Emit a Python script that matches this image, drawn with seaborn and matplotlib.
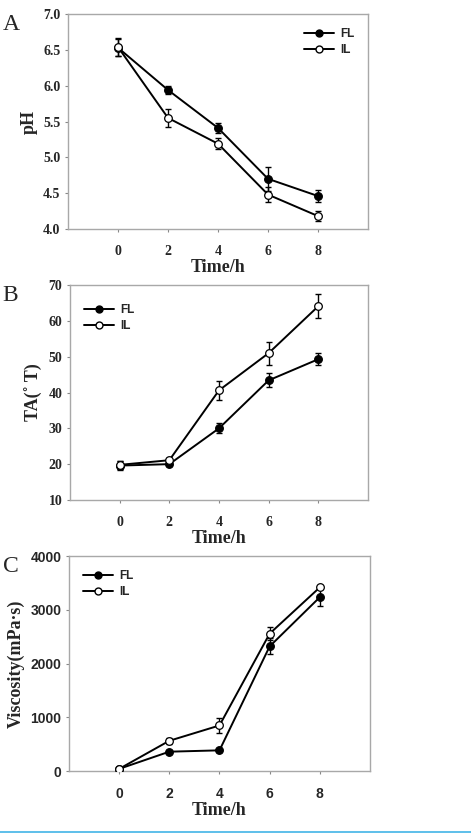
import matplotlib
matplotlib.use("Agg")
import matplotlib.pyplot as plt
import numpy as np
import pandas as pd
import seaborn as sns
from matplotlib.lines import Line2D

# data
time_h = [0, 2, 4, 6, 8]

ph_fl = [6.53, 5.94, 5.41, 4.70, 4.46]
ph_fl_err = [0.12, 0.05, 0.07, 0.17, 0.09]
ph_il = [6.54, 5.55, 5.19, 4.48, 4.18]
ph_il_err = [0.12, 0.13, 0.08, 0.10, 0.07]

ta_fl = [19.6, 20.0, 30.0, 43.4, 49.3]
ta_fl_err = [1.2, 0.4, 1.4, 2.0, 1.6]
ta_il = [19.8, 21.1, 40.6, 51.0, 64.1]
ta_il_err = [1.2, 0.5, 2.6, 3.2, 3.4]

visc_fl = [40, 360, 385, 2320, 3235]
visc_fl_err = [20, 25, 25, 150, 170]
visc_il = [40, 563, 848, 2557, 3418]
visc_il_err = [20, 60, 140, 120, 30]

series_names = ["FL", "IL"]
face_colors = ["black", "white"]

sns.set_style("ticks")
plt.rcParams["font.family"] = ["Liberation Serif", "DejaVu Serif"]

fig = plt.figure(figsize=(4.71, 8.33), dpi=100, facecolor="white")

panels = [
    dict(pos=[0.1444, 0.7251, 0.637, 0.258], fl=ph_fl, fle=ph_fl_err, il=ph_il, ile=ph_il_err,
         ylim=(4.0, 7.0), yticks=[4.0, 4.5, 5.0, 5.5, 6.0, 6.5, 7.0], yfmt="{:.1f}",
         ylabel="pH", letter="A", loc="upper right", bbox=(0.99, 0.985), sans=False),
    dict(pos=[0.1486, 0.3998, 0.6327, 0.258], fl=ta_fl, fle=ta_fl_err, il=ta_il, ile=ta_il_err,
         ylim=(10, 70), yticks=[10, 20, 30, 40, 50, 60, 70], yfmt="{:d}",
         ylabel="TA(˚ T)", letter="B", loc="upper left", bbox=(0.01, 0.96), sans=False),
    dict(pos=[0.1465, 0.0744, 0.639, 0.258], fl=visc_fl, fle=visc_fl_err, il=visc_il, ile=visc_il_err,
         ylim=(0, 4000), yticks=[0, 1000, 2000, 3000, 4000], yfmt="{:d}",
         ylabel="Viscosity(mPa·s)", letter="C", loc="upper left", bbox=(0.01, 0.985), sans=True),
]

for p in panels:
    ax = fig.add_axes(p["pos"])
    df = pd.DataFrame({"time": time_h * 2,
                       "value": p["fl"] + p["il"],
                       "err": p["fle"] + p["ile"],
                       "group": ["FL"] * 5 + ["IL"] * 5})

    for name, fc in zip(series_names, face_colors):
        sub = df[df["group"] == name]
        ax.errorbar(sub["time"], sub["value"], yerr=sub["err"], fmt="none",
                    ecolor="black", elinewidth=1.0, capsize=2.5, capthick=1.0, zorder=2)
        sns.lineplot(data=sub, x="time", y="value", ax=ax, color="black", linewidth=1.4,
                     marker="o", markersize=5.5, markerfacecolor=fc, markeredgecolor="black",
                     markeredgewidth=0.9, errorbar=None, legend=False, zorder=3)

    ax.set_xlim(-2, 10)
    ax.set_ylim(*p["ylim"])
    ax.set_xticks(time_h)
    ax.set_yticks(p["yticks"])
    ax.set_yticklabels([p["yfmt"].format(v) for v in p["yticks"]])

    fam = "Liberation Sans" if p["sans"] else "Liberation Serif"
    for lab in ax.get_xticklabels() + ax.get_yticklabels():
        lab.set_fontfamily(fam)
        lab.set_fontweight("bold")
        lab.set_fontsize(10)

    ax.set_xlabel("Time/h", fontsize=13, fontweight="bold", labelpad=1)
    ax.set_ylabel(p["ylabel"], fontsize=13, fontweight="bold", labelpad=4)

    for s in ax.spines.values():
        s.set_color("#a8a8a8")
        s.set_linewidth(1.0)
    ax.tick_params(axis="both", direction="out", length=2.5, width=0.8, color="#888888")
    ax.tick_params(axis="y", pad=3)
    ax.tick_params(axis="x", pad=9)

    handles = [Line2D([], [], color="black", linewidth=1.4, marker="o", markersize=5,
                      markerfacecolor=fc, markeredgecolor="black") for fc in face_colors]
    ax.legend(handles, series_names, loc=p["loc"], bbox_to_anchor=p["bbox"],
              frameon=False, handlelength=2.6, handletextpad=0.5, labelspacing=0.35,
              prop=dict(family="Liberation Sans", weight="bold", size=8.5))

    bb = ax.get_position()
    fig.text(0.006, bb.y1 - 0.0, p["letter"], fontsize=17, family="Liberation Serif",
             va="top", ha="left")

# thin blue rule at the bottom of the figure
fig.add_artist(Line2D([0.0, 1.0], [0.0015, 0.0015], color="#42b4e6", linewidth=1.2,
                      transform=fig.transFigure))

fig.savefig("out.png", dpi=100, facecolor="white")
